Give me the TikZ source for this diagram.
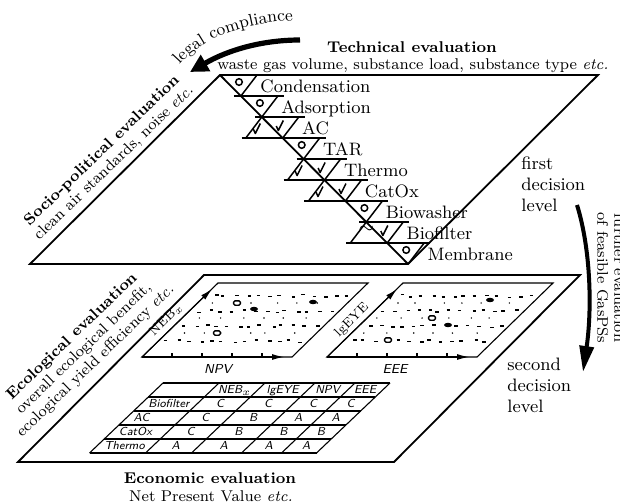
\documentclass[tikz,border=0pt]{standalone}
\usepackage{amsmath,amssymb}
\usetikzlibrary{calc}
\usetikzlibrary{arrows.meta}
\usetikzlibrary{decorations.text}

\tikzset{
  plan/.style={line width=0.9pt},
  trait/.style={line width=0.75pt},
  grille/.style={line width=0.55pt},
  titre/.style={font=\bfseries\fontsize{7.8}{8.5}\selectfont},
  soustitre/.style={font=\fontsize{7.8}{8.5}\selectfont},
  procede/.style={font=\fontsize{9}{10}\selectfont, anchor=base west, inner sep=0pt},
  coche/.pic={\draw[line width=0.75pt, line join=round] (-3.5,0) -- (-1.5,4.5) -- (3.5,-5.5);},
  cellule/.style={font=\sffamily\itshape\fontsize{5.8}{6}\selectfont, inner sep=0pt, text height=4pt, text depth=0.5pt},
  niveau/.style={font=\fontsize{9}{10.5}\selectfont, align=left, anchor=north west, inner sep=0pt},
  axe/.style={line width=0.55pt, -{Latex[length=6pt,width=3pt]}},
  marque/.style={line width=0.7pt, rounded corners=0.8pt}
}

\begin{document}
\begin{tikzpicture}[x=0.5pt,y=-0.5pt]
  \useasboundingbox (0,0) rectangle (620,503);

  % Plan supérieur
  \coordinate (A) at (220,75);
  \coordinate (B) at (598,75);
  \coordinate (C) at (408,264);
  \coordinate (D) at (30,264);
  \draw[plan] (A) -- (B) -- (C) -- (D) -- cycle;
  \draw[plan] (A) -- (C);

  % Lignes de l'escalier
  \foreach \k/\g in {1/7,2/7,3/41,4/7,5/41,6/41,7/7,8/41}{
    \pgfmathsetmacro{\xd}{220+20.9*\k}
    \pgfmathsetmacro{\yy}{75+21*\k}
    \draw[trait] (\xd-\g,\yy) -- (\xd+43,\yy);
  }

  % Cellules de droite
  \foreach \k in {0,...,8}{
    \pgfmathsetmacro{\xd}{220+20.9*\k}
    \pgfmathsetmacro{\yt}{75+21*\k}
    \draw[trait] (\xd+37,\yt) -- (\xd+20.9,\yt+21);
  }
  \foreach \k in {0,1,3,6,8}{
    \pgfmathsetmacro{\xd}{220+20.9*\k}
    \pgfmathsetmacro{\yt}{75+21*\k}
    \draw[trait] (\xd+19,\yt+7) circle (3.3);
  }
  \foreach \k in {2,4,5,7}{
    \pgfmathsetmacro{\xd}{220+20.9*\k}
    \pgfmathsetmacro{\yt}{75+21*\k}
    \pic (cd\k) at (\xd+18,\yt+9) {coche};
  }

  % Cellules de gauche
  \foreach \k in {2,4,5,7}{
    \pgfmathsetmacro{\xd}{220+20.9*\k}
    \pgfmathsetmacro{\yt}{75+21*\k}
    \draw[trait] (\xd,\yt) -- (\xd-16,\yt+21);
  }
  \foreach \k in {2,4,5}{
    \pgfmathsetmacro{\xd}{220+20.9*\k}
    \pgfmathsetmacro{\yt}{75+21*\k}
    \pic (cg\k) at (\xd-5,\yt+12) {coche};
  }
  \node[font=\fontsize{10}{10}\selectfont, inner sep=0pt] (tilde) at (366.3,230) {$\sim$};

  % Noms des procédés
  \foreach \k/\nom in {0/Condensation,1/Adsorption,2/AC,3/TAR,4/Thermo,5/CatOx,6/Biowasher,7/Biofilter,8/Membrane}{
    \pgfmathsetmacro{\xd}{220+20.9*\k}
    \pgfmathsetmacro{\yt}{75+21*\k}
    \node[procede] (p\k) at (\xd+40,\yt+17) {\nom};
  }

  % Plan inférieur
  \coordinate (E) at (204,275);
  \coordinate (F) at (580,275);
  \coordinate (G) at (394,462);
  \coordinate (H) at (18,462);
  \draw[plan] (E) -- (F) -- (G) -- (H) -- cycle;

  % Graphes
  \foreach \cx/\graine in {142/3,327/8}{
    \begin{scope}[shift={(\cx,357)}]
      \draw[grille] (0,0) -- (150,0) -- (226,-74) -- (76,-74) -- cycle;
      \draw[axe] (0,0) -- (142,0);
      \draw[axe] (0,0) -- (70,-68);
      \foreach \u in {30,60,90,120} \draw[grille] (\u,0) -- (\u,-4);
      \pgfmathsetseed{\graine}
      \foreach \v in {16,31,46,61}
        \foreach \u in {8,19,...,140}{
          \pgfmathsetmacro{\du}{1.03*\v+\u+3*rand}
          \pgfmathsetmacro{\dv}{\v+1.5*rand}
          \draw[line width=0.8pt] (\du,-\dv) -- ++(3.5,0);
        }
      \foreach \v in {24,39,54}
        \foreach \u in {14,36,...,130}{
          \pgfmathsetmacro{\du}{1.03*\v+\u+5*rand}
          \fill (\du,-\v) circle (0.8);
        }
    \end{scope}
  }

  % Points remarquables
  \foreach \px/\py in {237/303,217/333,432/318,388/340}
    \draw[marque, fill=white] (\px-3.5,\py-2.2) rectangle (\px+3.5,\py+2.2);
  \foreach \px/\py in {313/302,254/309,448/325,490/300}
    \fill (\px,\py) ellipse (4 and 2.2);

  % Noms des axes
  \node[font=\sffamily\itshape\fontsize{6.5}{7}\selectfont] (npv) at (218,369) {NPV};
  \node[font=\sffamily\itshape\fontsize{6.5}{7}\selectfont] (eee) at (395,369) {EEE};
  \node[rotate=45, font=\fontsize{6.5}{7}\selectfont] (neb) at (166,320) {NEB$_x$};
  \node[rotate=45, font=\fontsize{6.5}{7}\selectfont] (lgeye) at (352,320) {lgEYE};

  % Tableau
  \foreach \ligne in {0,...,5}
    \draw[grille] (163-14.7*\ligne,383+14*\ligne) -- (390-14.7*\ligne,383+14*\ligne);
  \foreach \dx in {163,219,265,315,355,390}
    \draw[grille] (\dx,383) -- (\dx-73.5,453);
  \foreach \cx/\t [count=\i] in {242/NEB$_x$,290/lgEYE,335/NPV,372.5/EEE}
    \node[cellule] (h\i) at (\cx-7.35,390) {\t};
  \foreach \ligne/\nom/\va/\vb/\vc/\vd in {1/Biofilter/C/C/C/C,2/AC/C/B/A/A,3/CatOx/C/B/B/B,4/Thermo/A/A/A/A}{
    \pgfmathsetmacro{\s}{14.7*\ligne+7.35}
    \pgfmathsetmacro{\yc}{390+14*\ligne}
    \node[cellule, anchor=west] (l\ligne) at (170-\s,\yc) {\nom};
    \node[cellule] (a\ligne) at (242-\s,\yc) {\va};
    \node[cellule] (b\ligne) at (290-\s,\yc) {\vb};
    \node[cellule] (c\ligne) at (335-\s,\yc) {\vc};
    \node[cellule] (d\ligne) at (372.5-\s,\yc) {\vd};
  }

  % Textes
  \node[titre] (tech) at (412,47) {Technical evaluation};
  \node[soustitre] (techb) at (413,66) {waste gas volume, substance load, substance type \textit{etc.}};
  \node[rotate=44, align=center, soustitre] (socio) at (108,157) {{\bfseries Socio-political evaluation}\\clean air standards, noise \textit{etc.}};
  \node[rotate=44, align=center, soustitre] (eco) at (84,349) {{\bfseries Ecological evaluation}\\overall ecological benefit,\\ecological yield efficiency \textit{etc.}};
  \node[titre] (econ) at (210,478) {Economic evaluation};
  \node[soustitre] (econb) at (211,496) {Net Present Value \textit{etc.}};
  \node[niveau] (n1) at (521,156) {first\\decision\\level};
  \node[niveau] (n2) at (507,358) {second\\decision\\level};
  \node[rotate=-90, align=center, font=\fontsize{7.7}{8.5}\selectfont] (suite) at (611,278) {further evaluation\\of feasible GasPSs};

  % Flèche legal compliance
  \coordinate (lc1) at (300,40);
  \coordinate (lc2) at (190,72);
  \draw[line width=2.6pt, -{Triangle[length=9pt,width=9pt]}] (lc1) .. controls (262,40) and (228,50) .. (lc2);
  \path[decorate, decoration={text along path, text align=center, text={|\fontsize{8.5}{9}\selectfont|legal compliance}}] (172,74) .. controls (198,38) and (240,22) .. (305,20);

  % Flèche vers le second niveau
  \coordinate (d1) at (577,205);
  \coordinate (d2) at (583,372);
  \draw[line width=2pt, -{Triangle[length=13pt,width=7pt]}] (d1) .. controls (591,250) and (592,310) .. (d2);

\end{tikzpicture}
\end{document}
